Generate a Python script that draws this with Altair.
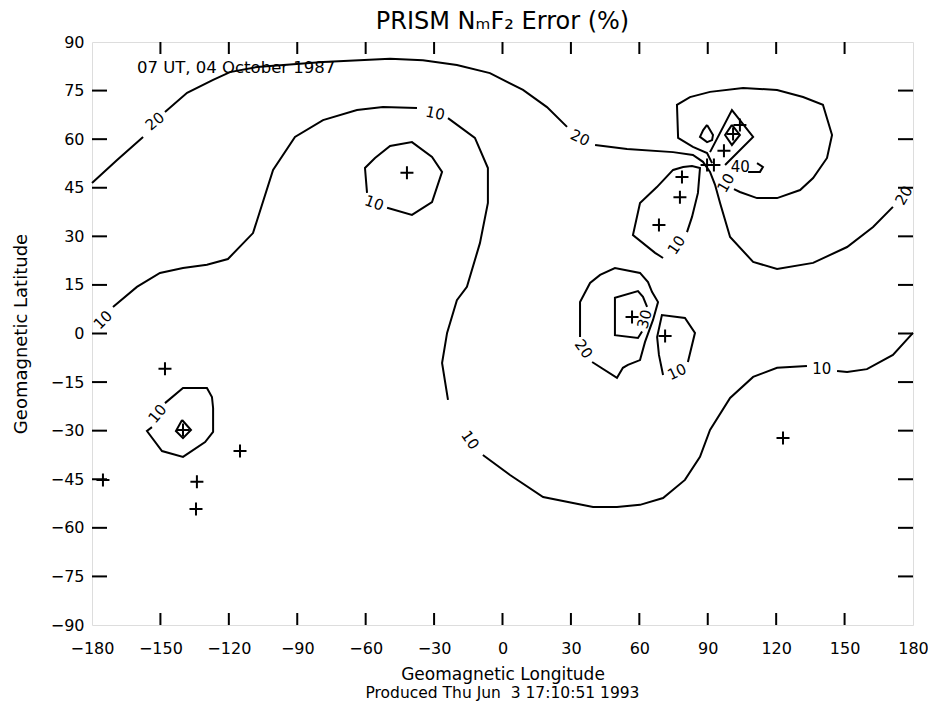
import altair as alt
import pandas as pd

# ---------------- axis ticks ----------------
x_ticks = list(range(-180, 181, 30))
y_ticks = list(range(-90, 91, 15))
x_inner_ticks = list(range(-150, 151, 30))
y_inner_ticks = list(range(-75, 76, 15))

# ---------------- contour pieces (lon, lat) ----------------
# 20% contour, long line (wraps from left edge to right edge)
c20_a = [(-180, 46.5), (-169.0, 53.6), (-157.6, 60.7)]
c20_b = [(-148.0, 68.4), (-138.3, 74.3), (-126.9, 78.3), (-119.5, 80.7), (-107.6, 82.3),
         (-78.7, 83.8), (-49.3, 84.8), (-34.9, 84.4), (-20.0, 82.9), (-5.5, 80.4),
         (9.0, 75.2), (19.5, 69.9), (28.3, 63.8)]
c20_c = [(40.6, 58.2), (54.6, 57.0), (74.8, 56.0), (83.5, 55.1), (87.9, 53.0), (91.0, 49.9),
         (93.2, 45.9), (95.4, 40.3), (99.8, 29.8), (109.9, 22.1), (120.4, 19.9), (136.2, 21.8),
         (151.1, 26.7), (162.5, 32.9), (171.2, 39.1)]
# 10% contour, long snaking line
c10_a = [(-170.8, 8.2), (-160.3, 14.4), (-150.2, 18.7), (-140.1, 20.2), (-129.6, 21.2),
         (-120.4, 23.0), (-109.4, 31.0), (-100.6, 50.5), (-91.0, 60.7), (-78.7, 65.9),
         (-63.8, 69.0), (-52.4, 69.9), (-37.5, 69.6)]
c10_b = [(-23.9, 66.5), (-12.1, 60.4), (-6.4, 51.1), (-6.4, 40.3), (-9.9, 27.9), (-15.6, 14.4),
         (-20.0, 10.3), (-24.3, 0.2), (-26.5, -9.1), (-23.9, -20.5)]
c10_c = [(-8.6, -37.5), (3.3, -43.7), (17.8, -50.5), (39.7, -53.6), (50.2, -53.6), (60.3, -52.9),
         (70.4, -50.8), (80.0, -45.2), (86.6, -38.1), (91.0, -29.8), (99.8, -19.9),
         (109.9, -13.4), (120.4, -10.6), (133.5, -10.0)]
c10_d = [(146.7, -11.6), (151.1, -11.9), (159.8, -11.0), (171.2, -6.6), (180, 0.2)]
# 10% loop around station near (-42, 50)
c10_loop_n = [(-50.6, 38.8), (-39.7, 36.6), (-30.9, 40.6), (-26.5, 49.9), (-30.9, 54.5),
              (-39.7, 59.1), (-49.3, 57.9), (-55.9, 54.2), (-60.3, 51.1), (-59.4, 43.4)]
# 10% loop around station near (-140, -30)
c10_loop_s = [(-148.0, -21.5), (-140.1, -16.8), (-129.6, -16.8), (-127.4, -19.6), (-126.9, -23.0),
              (-126.9, -30.4), (-130.4, -33.5), (-140.1, -38.1), (-149.3, -36.3), (-155.9, -30.1),
              (-153.7, -28.9)]
diamond_s = [(-140.5, -26.7), (-136.6, -29.8), (-140.1, -32.3), (-143.2, -30.1), (-140.5, -26.7)]
# 10% loop around stations near (75, 40)
c10_loop_e = [(70.4, 23.3), (66.9, 24.9), (57.2, 30.4), (60.3, 40.3), (67.7, 45.2), (74.8, 50.5),
              (79.2, 51.4), (83.1, 51.7), (86.6, 51.1), (85.7, 43.4), (83.1, 36.0), (80.9, 31.3)]
# loop around stations near (100, 60)
loop_ne = [(91.9, 52.6), (89.7, 55.7), (83.5, 57.6), (77.0, 60.4), (76.5, 70.6), (82.2, 73.0),
           (91.0, 74.6), (105.5, 75.8), (120.4, 75.2), (131.8, 73.0), (140.5, 70.6), (144.5, 61.3),
           (142.3, 54.2), (136.2, 48.0), (130.5, 44.3), (120.4, 41.8), (111.6, 41.8), (104.1, 43.7),
           (101.5, 44.6)]
vee_ne = [(91.0, 56.0), (100.6, 69.0), (109.9, 60.7), (97.6, 52.0)]
drop_ne = [(89.7, 64.4), (92.3, 61.3), (91.9, 59.7), (89.7, 59.1), (86.6, 60.7), (88.0, 62.8), (89.7, 64.4)]
diamond_ne = [(100.6, 64.4), (104.1, 61.3), (100.6, 58.2), (97.6, 61.3), (100.6, 64.4)]
hook_ne = [(107.7, 49.9), (112.9, 49.9), (114.2, 51.4), (111.6, 52.6)]
# loops near (55, 5)
c20_loop_eq = [(39.3, -8.8), (50.2, -13.7), (52.8, -10.6), (55.0, -9.7), (60.3, -8.2), (62.5, -2.6),
               (66.0, 4.2), (68.2, 9.7), (65.6, 12.8), (63.8, 15.9), (60.3, 18.7), (49.3, 20.2),
               (42.8, 18.1), (38.4, 15.6), (34.0, 9.7), (34.0, -1.1)]
c30_loop_eq = [(61.2, 0.6), (59.4, -1.4), (49.3, -0.5), (49.3, 11.0), (59.4, 13.1), (61.6, 11.3),
               (63.4, 8.2)]
c10_loop_eq = [(70.4, -12.8), (68.6, -6.6), (67.8, -1.1), (69.9, 5.7), (80.0, 4.8), (84.4, 0.2),
               (81.3, -8.8)]

pieces = [("c20_a", c20_a), ("c20_b", c20_b), ("c20_c", c20_c),
          ("c10_a", c10_a), ("c10_b", c10_b), ("c10_c", c10_c), ("c10_d", c10_d),
          ("c10_loop_n", c10_loop_n), ("c10_loop_s", c10_loop_s), ("diamond_s", diamond_s),
          ("c10_loop_e", c10_loop_e), ("loop_ne", loop_ne), ("vee_ne", vee_ne),
          ("drop_ne", drop_ne), ("diamond_ne", diamond_ne), ("hook_ne", hook_ne),
          ("c20_loop_eq", c20_loop_eq), ("c30_loop_eq", c30_loop_eq), ("c10_loop_eq", c10_loop_eq)]

# ---------------- contour labels ----------------
label_text = ["20", "20", "20", "10", "10", "10", "10", "10", "10", "10", "10", "40", "20", "30", "10"]
label_lon = [-152.4, 34.0, 176.0, -175.2, -29.5, -14.2, 140.0, -56.3, -151.3, 76.3, 98.0, 104.3, 35.6, 62.3, 76.5]
label_lat = [65.5, 60.4, 42.6, 4.2, 68.0, -32.9, -10.9, 40.3, -24.8, 27.3, 46.5, 51.4, -4.8, 4.4, -11.9]
label_angle = [320, 25, 300, 315, 12, 55, 0, 20, 310, 305, 300, 0, 55, 285, 335]

# ---------------- station markers ----------------
station_lon = [-41.9, -148.0, -140.1, -115.1, -175.2, -134.0, -134.4, 68.6, 78.7, 77.8,
               89.7, 92.7, 97.1, 101.1, 104.1, 56.8, 71.3, 123.0]
station_lat = [49.6, -10.9, -29.8, -36.3, -45.2, -45.8, -54.2, 33.5, 48.3, 42.1,
               52.0, 52.0, 56.4, 61.6, 64.4, 5.1, -0.8, -32.3]

# ---------------- texts ----------------
title_text = "PRISM NₘF₂ Error (%)"
x_title = "Geomagnetic Longitude"
y_title = "Geomagnetic Latitude"
footer_text = "Produced Thu Jun\u00a0 3 17:10:51 1993"
note_text = "07 UT, 04 October 1987"

# ---------------- build tables ----------------
rows = []
for name, pts in pieces:
    for i, (lo, la) in enumerate(pts):
        rows.append({"piece": name, "idx": i, "lon": lo, "lat": la})
lines_df = pd.DataFrame(rows)
labels_df = pd.DataFrame({"text": label_text, "lon": label_lon, "lat": label_lat, "angle": label_angle})
stations_df = pd.DataFrame({"lon": station_lon, "lat": station_lat})
xt_df = pd.DataFrame({"lon": x_inner_ticks})
yt_df = pd.DataFrame({"lat": y_inner_ticks})
note_df = pd.DataFrame({"lon": [-160.3], "lat": [82.0], "text": [note_text]})
footer_df = pd.DataFrame({"text": [footer_text]})

W, H = 821, 583
FONT = "DejaVu Sans"

xscale = alt.Scale(domain=[-180, 180], nice=False, zero=False)
yscale = alt.Scale(domain=[-90, 90], nice=False, zero=False)

xaxis = alt.Axis(values=x_ticks, ticks=False, domain=False, grid=False, labelFlush=False,
                 labelOverlap=False, labelFontSize=16, labelPadding=15, labelColor="black",
                 title=x_title, titleFontSize=17, titleFontWeight="normal", titlePadding=10,
                 titleColor="black", labelFont=FONT, titleFont=FONT)
yaxis = alt.Axis(values=y_ticks, ticks=False, domain=False, grid=False, labelFlush=False,
                 labelOverlap=False, labelFontSize=16, labelPadding=8, labelColor="black",
                 title=y_title, titleFontSize=18, titleFontWeight="normal",
                 titlePadding=20, titleColor="black", labelFont=FONT, titleFont=FONT)

lines = alt.Chart(lines_df).mark_line(color="black", strokeWidth=2, strokeJoin="miter").encode(
    x=alt.X("lon:Q", scale=xscale, axis=xaxis),
    y=alt.Y("lat:Q", scale=yscale, axis=yaxis),
    detail="piece:N",
    order="idx:Q",
)

labels = alt.Chart(labels_df).mark_text(fontSize=15, font=FONT, color="black").encode(
    x=alt.X("lon:Q", scale=xscale),
    y=alt.Y("lat:Q", scale=yscale),
    text="text:N",
    angle=alt.Angle("angle:Q", scale=None),
)

stations = alt.Chart(stations_df).mark_point(
    shape="M-1,0L1,0M0,-1L0,1", size=169, filled=False, strokeWidth=2, color="black", opacity=1
).encode(x=alt.X("lon:Q", scale=xscale), y=alt.Y("lat:Q", scale=yscale))

note = alt.Chart(note_df).mark_text(fontSize=16.5, font=FONT, align="left", color="black").encode(
    x=alt.X("lon:Q", scale=xscale), y=alt.Y("lat:Q", scale=yscale), text="text:N")

footer = alt.Chart(footer_df).mark_text(fontSize=15.5, font=FONT, align="center", baseline="middle",
                                        color="black").encode(
    x=alt.value(W / 2), y=alt.value(H + 68), text="text:N")

bottom_ticks = alt.Chart(xt_df).mark_rule(color="black", strokeWidth=2).encode(
    x=alt.X("lon:Q", scale=xscale), y=alt.value(H), y2=alt.value(H - 12))
top_ticks = alt.Chart(xt_df).mark_rule(color="black", strokeWidth=2).encode(
    x=alt.X("lon:Q", scale=xscale), y=alt.value(0), y2=alt.value(12))
left_ticks = alt.Chart(yt_df).mark_rule(color="black", strokeWidth=2).encode(
    y=alt.Y("lat:Q", scale=yscale), x=alt.value(0), x2=alt.value(15))
right_ticks = alt.Chart(yt_df).mark_rule(color="black", strokeWidth=2).encode(
    y=alt.Y("lat:Q", scale=yscale), x=alt.value(W), x2=alt.value(W - 15))

chart = alt.layer(lines, labels, stations, note, footer,
                  bottom_ticks, top_ticks, left_ticks, right_ticks).properties(
    width=W, height=H,
    title=alt.TitleParams(title_text, fontSize=24, font=FONT, fontWeight="normal",
                          color="black", offset=0),
    autosize=alt.AutoSizeParams(type="none"),
    padding={"left": 84, "top": 34, "right": 15, "bottom": 76},
).configure_view(stroke="black", strokeWidth=2).configure(background="white")

chart.save("out.html", embed_options={"renderer": "svg", "actions": False})
